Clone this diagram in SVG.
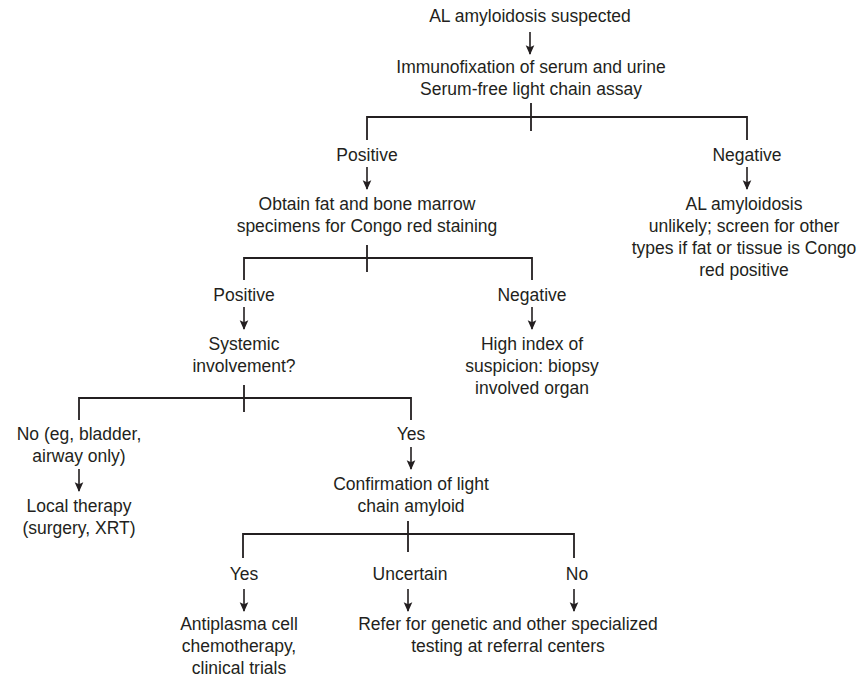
<svg xmlns="http://www.w3.org/2000/svg" width="867" height="679" viewBox="0 0 867 679">
<defs>
<marker id="ah" viewBox="0 0 10 10" refX="9" refY="5" markerWidth="6" markerHeight="6" orient="auto" markerUnits="strokeWidth">
<path d="M0,0.5 L10,5 L0,9.5 L2,5 z" fill="#231f20"/>
</marker>
<style>
text{font-family:"Liberation Sans",Arial,sans-serif;font-size:17.5px;fill:#231f20;text-anchor:middle}
.ln{stroke:#231f20;stroke-width:1.8;fill:none}
.ar{stroke:#231f20;stroke-width:1.6;fill:none;marker-end:url(#ah)}
</style>
</defs>
<rect width="867" height="679" fill="#fff"/>
<g id="connectors">
<path class="ar" d="M530,32 V54"/>
<path class="ln" d="M531,103 V131 M367,140 V117 H747 V140"/>
<path class="ar" d="M367,167 V189"/>
<path class="ar" d="M747,167 V189"/>
<path class="ln" d="M367,245 V272 M244,280 V258 H532 V280"/>
<path class="ar" d="M244,307 V329"/>
<path class="ar" d="M532,307 V329"/>
<path class="ln" d="M244,385 V412 M79,420 V398 H411 V420"/>
<path class="ar" d="M79,469 V491"/>
<path class="ar" d="M411,447 V469"/>
<path class="ln" d="M408,521 V552 M243,558 V534 H574 V558"/>
<path class="ar" d="M244,589 V611"/>
<path class="ar" d="M408,589 V611"/>
<path class="ar" d="M574,589 V611"/>
</g>
<g id="n1"><text x="530" y="22">AL amyloidosis suspected</text></g>
<g id="n2"><text x="531" y="73">Immunofixation of serum and urine</text><text x="531" y="95">Serum-free light chain assay</text></g>
<g id="n3"><text x="367" y="161">Positive</text></g>
<g id="n4"><text x="747" y="161">Negative</text></g>
<g id="n5"><text x="367" y="210">Obtain fat and bone marrow</text><text x="367" y="232">specimens for Congo red staining</text></g>
<g id="n6"><text x="744" y="210">AL amyloidosis</text><text x="744" y="232">unlikely; screen for other</text><text x="744" y="254">types if fat or tissue is Congo</text><text x="744" y="276">red positive</text></g>
<g id="n7"><text x="244" y="301">Positive</text></g>
<g id="n8"><text x="532" y="301">Negative</text></g>
<g id="n9"><text x="244" y="350">Systemic</text><text x="244" y="372">involvement?</text></g>
<g id="n10"><text x="532" y="350">High index of</text><text x="532" y="372">suspicion: biopsy</text><text x="532" y="394">involved organ</text></g>
<g id="n11"><text x="79" y="440">No (eg, bladder,</text><text x="79" y="462">airway only)</text></g>
<g id="n12"><text x="79" y="512">Local therapy</text><text x="79" y="534">(surgery, XRT)</text></g>
<g id="n13"><text x="411" y="440">Yes</text></g>
<g id="n14"><text x="411" y="490">Confirmation of light</text><text x="411" y="512">chain amyloid</text></g>
<g id="n15"><text x="244" y="580">Yes</text></g>
<g id="n16"><text x="410" y="580">Uncertain</text></g>
<g id="n17"><text x="577" y="580">No</text></g>
<g id="n18"><text x="239" y="630">Antiplasma cell</text><text x="239" y="652">chemotherapy,</text><text x="239" y="674">clinical trials</text></g>
<g id="n19"><text x="508" y="630">Refer for genetic and other specialized</text><text x="508" y="652">testing at referral centers</text></g>
</svg>
